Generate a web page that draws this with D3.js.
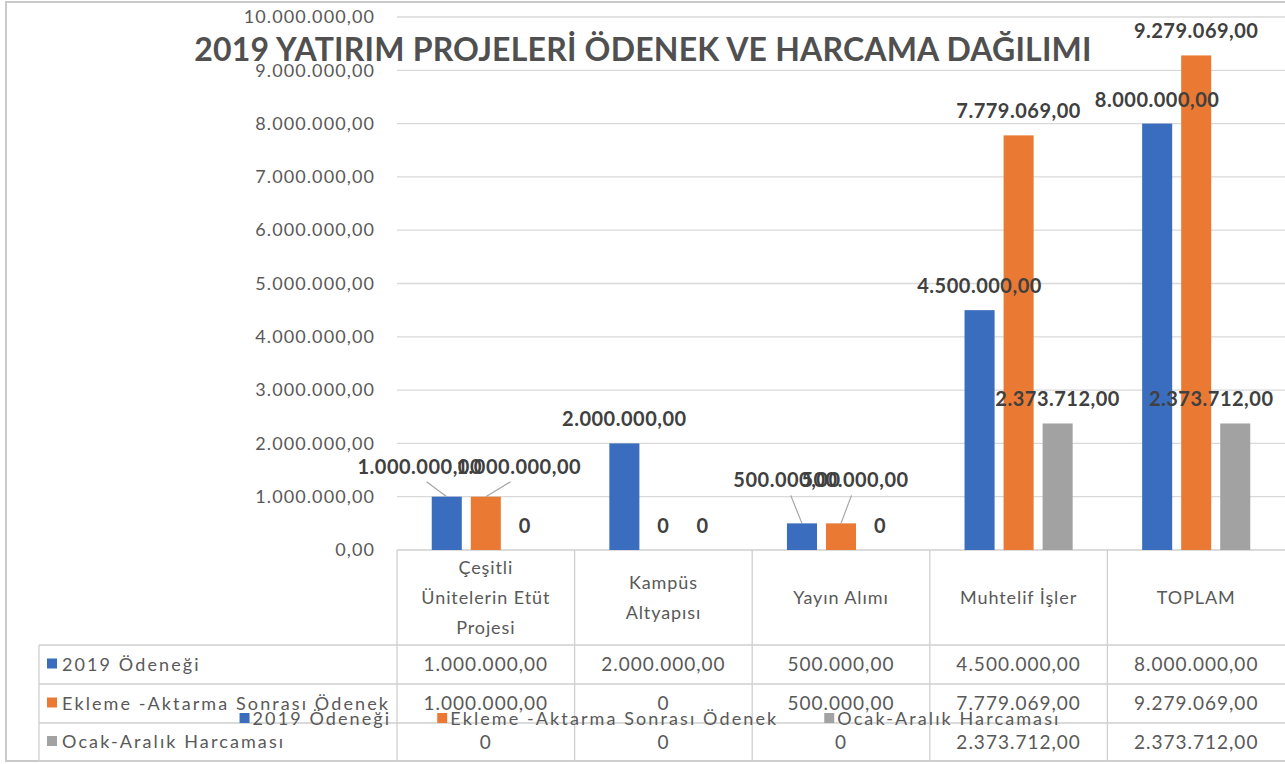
<!DOCTYPE html>
<html>
<head>
<meta charset="utf-8">
<script src="https://cdn.jsdelivr.net/npm/d3@7"></script>
<style>
  body { margin: 0; background: #fff; }
  svg { display: block; font-family: Lato, "Open Sans", sans-serif; }
</style>
</head>
<body>
<svg id="grafik" width="1285" height="764"></svg>
<script>
// --- veriler ---
const kategoriler = ["Çeşitli\nÜnitelerin Etüt\nProjesi", "Kampüs\nAltyapısı", "Yayın Alımı", "Muhtelif İşler", "TOPLAM"];
const seriler = ["2019 Ödeneği", "Ekleme -Aktarma Sonrası Ödenek", "Ocak-Aralık Harcaması"];
const odenek2019 = [1000000, 2000000, 500000, 4500000, 8000000];
const eklemeSonrasi = [1000000, 0, 500000, 7779069, 9279069];
const harcama = [0, 0, 0, 2373712, 2373712];
const yTikler = [0, 1e6, 2e6, 3e6, 4e6, 5e6, 6e6, 7e6, 8e6, 9e6, 10e6];
const baslik = "2019 YATIRIM PROJELERİ ÖDENEK VE HARCAMA DAĞILIMI";

const degerler = [odenek2019, eklemeSonrasi, harcama];
const renkler = ["#3b6dbf", "#ea7a33", "#a2a2a2"];

const tr = d3.formatLocale({ decimal: ",", thousands: ".", grouping: [3], currency: ["", ""] });
const fmt = v => v === 0 ? "0" : tr.format(",.2f")(v);

const W = 1285, H = 764;
const svg = d3.select("#grafik");

// Excel'in elle kaydirdigi etiketler: [dx, ekstra dy, cizgi]
const etiketKaydir = {
  "0-0": [-27, -6, true], "0-1": [33, -6, true],
  "2-0": [-15, -19, true], "2-1": [14, -19, true],
  "4-2": [-24, 0, false]
};

// cerceve
svg.append("rect").attr("x", 6).attr("y", 2).attr("width", W + 10).attr("height", 759)
  .attr("fill", "none").attr("stroke", "#c9c9c9").attr("stroke-width", 2);

const x = d3.scaleBand().domain(d3.range(kategoriler.length)).range([397, 1285]).padding(0);
const xs = d3.scaleBand().domain(d3.range(seriler.length)).range([0, x.bandwidth()])
  .paddingInner(0.23).paddingOuter(0.89);
const y = d3.scaleLinear().domain([0, 10e6]).range([550, 17]);

// izgara
const gGrid = svg.append("g");
gGrid.selectAll("line").data(yTikler).join("line")
  .attr("x1", 397).attr("x2", W)
  .attr("y1", d => y(d)).attr("y2", d => y(d))
  .attr("stroke", d => d === 0 ? "#cfcfcf" : "#d9d9d9").attr("stroke-width", 1.3);

// y ekseni
const yAxis = d3.axisLeft(y).tickValues(yTikler).tickFormat(d => tr.format(",.2f")(d)).tickSize(0).tickPadding(0);
const gY = svg.append("g").attr("transform", "translate(375,0)").call(yAxis);
gY.select(".domain").remove();
gY.selectAll("text").attr("font-size", 18).attr("fill", "#595959")
  .attr("letter-spacing", 1.1).attr("font-family", "Lato, sans-serif");

// baslik
svg.append("text").attr("x", 643).attr("y", 61).attr("text-anchor", "middle")
  .attr("font-size", 32).attr("font-weight", 700).attr("letter-spacing", 0.2)
  .attr("fill", "#505050").text(baslik);

// cubuklar
const gruplar = svg.append("g").selectAll("g").data(kategoriler).join("g")
  .attr("transform", (d, i) => `translate(${x(i)},0)`);
gruplar.selectAll("rect")
  .data((d, i) => degerler.map((s, j) => ({ j, v: s[i] })))
  .join("rect")
  .attr("x", d => xs(d.j)).attr("width", xs.bandwidth())
  .attr("y", d => y(d.v)).attr("height", d => y(0) - y(d.v))
  .attr("fill", d => renkler[d.j]);

// veri etiketleri
const gEtiket = svg.append("g");
kategoriler.forEach((k, i) => {
  degerler.forEach((s, j) => {
    const bx = x(i) + xs(j) + xs.bandwidth() / 2;
    const by = y(s[i]);
    const n = etiketKaydir[i + "-" + j] || [0, 0, false];
    const lx = bx + n[0], ly = by - 24 + n[1];
    if (n[2]) {
      gEtiket.append("line")
        .attr("x1", lx + (bx - lx) * 0.25).attr("y1", ly + 15)
        .attr("x2", bx).attr("y2", by)
        .attr("stroke", "#a6a6a6").attr("stroke-width", 1.2);
    }
    gEtiket.append("text").attr("x", lx).attr("y", ly).attr("dy", "0.35em")
      .attr("text-anchor", "middle").attr("font-size", 20).attr("font-weight", 700)
      .attr("letter-spacing", 0.5).attr("fill", "#404040").text(fmt(s[i]));
  });
});

// veri tablosu
const satirY = [645, 684, 723, 761];
const tablo = svg.append("g").attr("stroke", "#cfcfcf").attr("stroke-width", 1.3);
kategoriler.forEach((k, i) => {
  tablo.append("line").attr("x1", x(i)).attr("x2", x(i)).attr("y1", 550).attr("y2", 762);
});
tablo.append("line").attr("x1", 39).attr("x2", 39).attr("y1", satirY[0]).attr("y2", 762);
satirY.forEach(yy => tablo.append("line").attr("x1", 39).attr("x2", W).attr("y1", yy).attr("y2", yy));

// tablo basliklari
kategoriler.forEach((k, i) => {
  const satirlar = k.split("\n");
  const orta = (550 + 645) / 2;
  satirlar.forEach((s, r) => {
    svg.append("text").attr("x", x(i) + x.bandwidth() / 2)
      .attr("y", orta + (r - (satirlar.length - 1) / 2) * 30).attr("dy", "0.35em")
      .attr("text-anchor", "middle").attr("font-size", 18).attr("fill", "#595959")
      .attr("letter-spacing", 0.9).text(s);
  });
});

// tablo satirlari
seriler.forEach((s, j) => {
  const cy = (satirY[j] + satirY[j + 1]) / 2;
  svg.append("rect").attr("x", 47).attr("y", cy - 6).attr("width", 10).attr("height", 10).attr("fill", renkler[j]);
  svg.append("text").attr("x", 62).attr("y", cy).attr("dy", "0.35em")
    .attr("font-size", 18).attr("letter-spacing", 2.1).attr("fill", "#595959").text(s);
  degerler[j].forEach((v, i) => {
    svg.append("text").attr("x", x(i) + x.bandwidth() / 2).attr("y", cy).attr("dy", "0.35em")
      .attr("text-anchor", "middle").attr("font-size", 19).attr("letter-spacing", 1)
      .attr("fill", "#595959").text(fmt(v));
  });
});

// ust uste binen lejant
const lejant = svg.append("g");
const ogeler = lejant.selectAll("g").data(seriler).join("g");
ogeler.append("rect").attr("y", -6).attr("width", 10).attr("height", 10).attr("fill", (d, j) => renkler[j]);
ogeler.append("text").attr("x", 13).attr("dy", "0.35em").attr("font-size", 18)
  .attr("letter-spacing", 2.1).attr("fill", "#595959").text(d => d);
let cx = 0;
ogeler.each(function () {
  const w = 13 + this.querySelector("text").getComputedTextLength();
  d3.select(this).attr("transform", `translate(${cx},0)`);
  cx += w + 46;
});
lejant.attr("transform", `translate(${650 - (cx - 46) / 2},719)`);
</script>
</body>
</html>
